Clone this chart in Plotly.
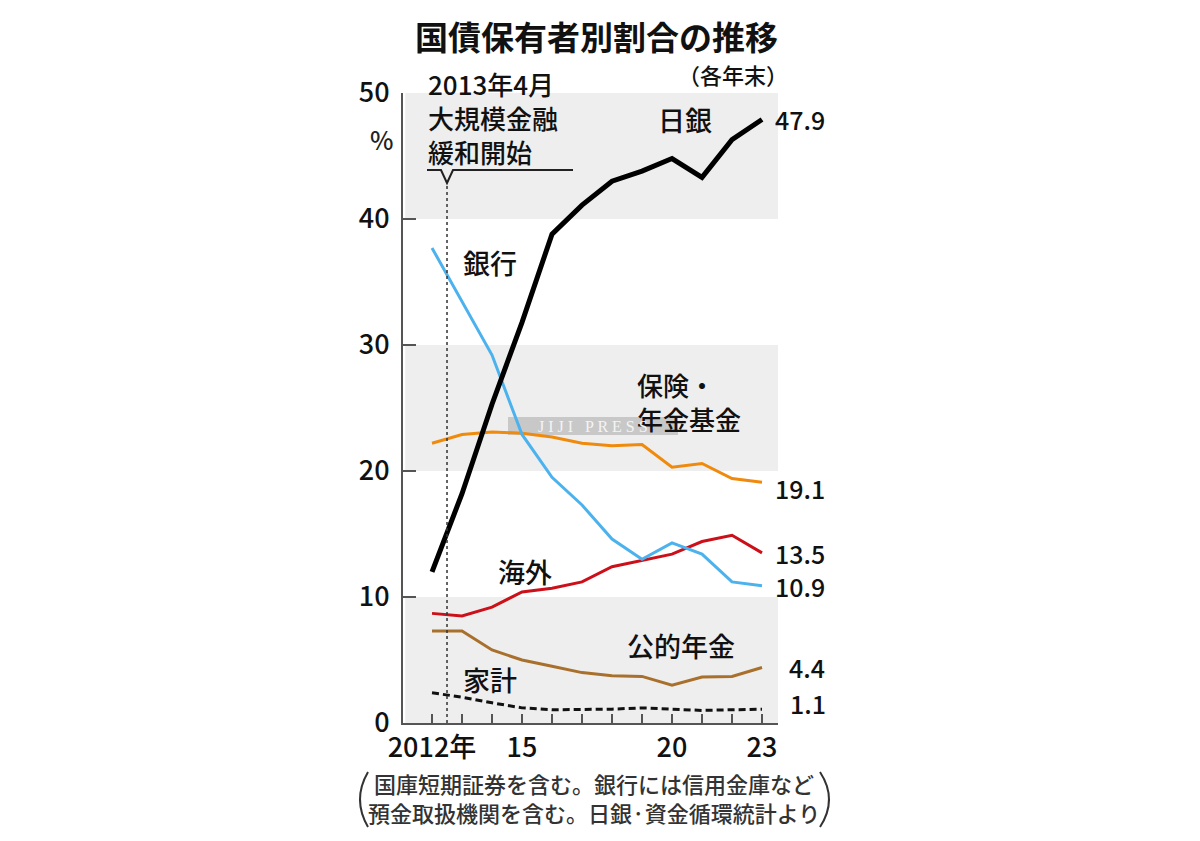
import plotly.graph_objects as go

# ---------------- data ----------------
years = list(range(2012, 2024))
boj        = [12.0, 18.2, 25.3, 31.8, 38.8, 41.1, 43.0, 43.8, 44.8, 43.3, 46.3, 47.9]
banks      = [37.7, 33.5, 29.2, 22.9, 19.5, 17.3, 14.6, 13.0, 14.3, 13.4, 11.2, 10.9]
insurance  = [22.2, 22.9, 23.1, 23.0, 22.7, 22.2, 22.0, 22.1, 20.3, 20.6, 19.4, 19.1]
overseas   = [8.7, 8.5, 9.2, 10.4, 10.7, 11.2, 12.4, 12.9, 13.4, 14.4, 14.9, 13.5]
public_pen = [7.3, 7.3, 5.8, 5.0, 4.5, 4.0, 3.75, 3.7, 3.0, 3.65, 3.7, 4.4]
household  = [2.4, 2.05, 1.6, 1.2, 1.05, 1.05, 1.1, 1.2, 1.1, 1.0, 1.05, 1.1]

end_labels = ["47.9", "19.1", "13.5", "10.9", "4.4", "1.1"]
y_tick_vals = [0, 10, 20, 30, 40, 50]
x_tick_text = {2012: "2012年", 2015: "15", 2020: "20", 2023: "23"}

# ---------------- layout geometry ----------------
W, H = 1200, 841
OFF = 8  # page body margin
L, R, T, B = 403, 778, 93, 723  # plot area in screenshot pixels
FONT = "Noto Sans CJK JP"


def px(x, y):
    return (x - L) / (R - L), (B - y) / (B - T)


fig = go.Figure()

series = [
    (household, "#111111", 3, "7px,4px"),
    (public_pen, "#a8702c", 3, "solid"),
    (insurance, "#f08a0c", 3, "solid"),
    (overseas, "#cc1019", 3, "solid"),
    (banks, "#4cb2ee", 3, "solid"),
    (boj, "#000000", 5, "solid"),
]
for vals, col, w, dash in series:
    fig.add_trace(go.Scatter(x=years, y=vals, mode="lines",
                             line=dict(color=col, width=w, dash=dash),
                             hoverinfo="skip", showlegend=False))

shapes = []
# gray bands
for y0 in (0, 20, 40):
    shapes.append(dict(type="rect", xref="paper", yref="y", x0=0.006, x1=1,
                       y0=y0, y1=y0 + 10, fillcolor="#eeeeee",
                       line=dict(width=0), layer="below"))

# watermark box
wx0, wy0 = px(508, 435)
wx1, wy1 = px(678, 417)
shapes.append(dict(type="rect", xref="paper", yref="paper", x0=wx0, x1=wx1,
                   y0=wy0, y1=wy1, fillcolor="rgba(170,170,170,0.55)",
                   line=dict(width=0), layer="below"))


def path_paper(points):
    s = ""
    for i, (x, y) in enumerate(points):
        xp, yp = px(x, y)
        s += ("M" if i == 0 else "L") + f"{xp:.5f},{yp:.5f} "
    return s


# bracket for 2013 April annotation
shapes.append(dict(type="path", xref="paper", yref="paper",
                   path=path_paper([(427, 170), (441, 170), (447, 183), (453, 170), (573, 170)]),
                   line=dict(color="#222222", width=2)))
# dashed vertical line at 2013 April
shapes.append(dict(type="line", xref="x", yref="paper", x0=2012.5, x1=2012.5,
                   y0=0, y1=px(0, 183)[1],
                   line=dict(color="#333333", width=1.5, dash="3px,3px")))


# parentheses around footnote
def paren(xe, xm, y0, y1):
    a = px(xe, y0)
    m = px(xm, (y0 + y1) / 2)
    b = px(xe, y1)
    c = (2 * m[0] - 0.5 * (a[0] + b[0]), m[1])
    return f"M{a[0]:.5f},{a[1]:.5f} Q{c[0]:.5f},{c[1]:.5f} {b[0]:.5f},{b[1]:.5f}"


shapes.append(dict(type="path", xref="paper", yref="paper",
                   path=paren(368, 360, 772, 827), line=dict(color="#333333", width=2)))
shapes.append(dict(type="path", xref="paper", yref="paper",
                   path=paren(820, 829, 772, 827), line=dict(color="#333333", width=2)))

ann = []


def text(x, y, s, size=27, anchor="left", color="#111111", bold=False, fam=FONT, align="left"):
    xp, yp = px(x, y)
    ann.append(dict(x=xp, y=yp, xref="paper", yref="paper", text=(f"<b>{s}</b>" if bold else s),
                    showarrow=False, xanchor=anchor, yanchor="middle", align=align,
                    font=dict(family=fam, size=size, color=color, weight=(700 if bold else 500))))


text(596, 36, "国債保有者別割合の推移", size=33, anchor="center", bold=True)
text(733, 74, "（各年末）", size=22, anchor="center")
text(426, 118, "2013年4月<br>大規模金融<br>緩和開始", size=26)
text(656, 120, "日銀", size=27)
text(461, 262, "銀行", size=27)
text(635, 401, "保険・<br>年金基金", size=26)
text(496, 571, "海外", size=27)
text(625, 645, "公的年金", size=27)
text(461, 679, "家計", size=27)
text(381, 139, "%", size=25, anchor="center", color="#222222")
text(594, 797, "国庫短期証券を含む。銀行には信用金庫など<br>預金取扱機関を含む。日銀·資金循環統計より",
     size=22, anchor="center", color="#333333", align="center")
text(593, 426, "J I J I &nbsp; P R E S S", size=16, anchor="center", color="#f4f4f4",
     fam="Liberation Serif")

# end-value labels, tied to the data
end_series = [boj, insurance, overseas, banks, public_pen, household]
end_shift = [(11, 0), (11, -6), (11, 0), (11, 0), (25, 1), (26, 6)]
for vals, lab, (dx, dy) in zip(end_series, end_labels, end_shift):
    ann.append(dict(x=years[-1], y=vals[-1], xref="x", yref="y", text=lab,
                    showarrow=False, xanchor="left", yanchor="middle",
                    xshift=dx, yshift=dy,
                    font=dict(family=FONT, size=25, color="#111111", weight=500)))

fig.update_layout(
    width=W, height=H,
    margin=dict(l=L - OFF, r=W - R + OFF, t=T - OFF, b=H - B + OFF, pad=0),
    paper_bgcolor="white", plot_bgcolor="white",
    shapes=shapes, annotations=ann,
    font=dict(family=FONT, color="#111111"),
    showlegend=False,
)
fig.update_xaxes(range=[2011.033, 2023.533], tickvals=years,
                 ticktext=[x_tick_text.get(y, "") for y in years],
                 ticks="inside", ticklen=9, tickwidth=1.5, tickcolor="#555555",
                 showline=True, linecolor="#555555", linewidth=2,
                 showgrid=False, zeroline=False,
                 tickfont=dict(family=FONT, size=27, color="#111111", weight=500))
fig.update_yaxes(range=[0, 50], tickvals=y_tick_vals,
                 ticks="inside", ticklen=13, tickwidth=1.5, tickcolor="#555555",
                 showline=True, linecolor="#555555", linewidth=2,
                 showgrid=False, zeroline=False, ticklabelstandoff=6,
                 tickfont=dict(family=FONT, size=27, color="#111111", weight=500))

fig.write_html("out.html")
